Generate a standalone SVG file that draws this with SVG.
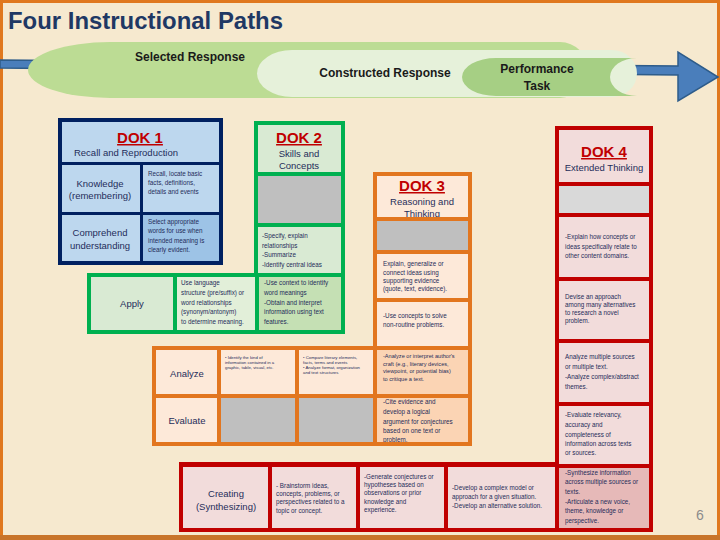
<svg xmlns="http://www.w3.org/2000/svg" width="720" height="540" viewBox="0 0 720 540">
<style>
text{font-family:"Liberation Sans",Arial,sans-serif;fill:#1f2d5a}
.t{font-weight:bold;font-size:24px;fill:#1f3864}
.band{font-weight:bold;font-size:12px;fill:#1a1a1a;text-anchor:middle}
.dok{font-weight:bold;font-size:15px;fill:#c00000;text-decoration:underline;text-anchor:middle}
.lb{font-size:9.5px;text-anchor:middle}
.sm{font-size:6.3px}
.xs{font-size:4.3px}
.an{font-size:5.6px}
.blue{fill:#bdd7ee}.blue2{fill:#9dc3e6}
.gr{fill:#d9ead3}.gr2{fill:#e2efd9}.gr3{fill:#c5e0b4}
.pe{fill:#fde9d9}.pe2{fill:#fbd4b4}
.pk{fill:#f2dcdb}.pk2{fill:#e6b9b8}
.gy{fill:#bfbfbf}.gy2{fill:#d9d9d9}
</style>
<rect x="0" y="0" width="720" height="540" fill="#f6e9cf"/>
<rect x="1.5" y="1.5" width="717" height="535" fill="none" stroke="#e0781e" stroke-width="3"/>
<rect x="0" y="535" width="720" height="5" fill="#c8742a"/>
<text class="t" x="8" y="29" textLength="275" lengthAdjust="spacingAndGlyphs">Four Instructional Paths</text>

<g id="connectors">
<polygon points="0,60 678,66 678,52 718,77 678,101 678,75 0,68" fill="#4a7ebb" stroke="#2e5c8a" stroke-width="1.5"/>
</g>

<g id="selected-response">
<path d="M110,42 H560 A28,28 0 0 1 560,98 H110 A82,28 0 0 1 110,42 Z" fill="#bcdc94"/>
<text class="band" x="190" y="61">Selected Response</text>
</g>
<g id="constructed-response">
<path d="M292,50 H612 A25,23.5 0 0 1 612,97 H292 A35,23.5 0 0 1 292,50 Z" fill="#e6f1da"/>
<text class="band" x="385" y="77">Constructed Response</text>
</g>
<g id="performance-task">
<path d="M496,58 H637 A27,19 0 0 0 637,96 H496 A34,19 0 0 1 496,58 Z" fill="#a6cf84"/>
<text class="band" x="537" y="73">Performance</text>
<text class="band" x="537" y="90">Task</text>
</g>

<g id="dok1">
<rect x="58" y="118" width="165" height="147" fill="#002060"/>
<rect class="blue" x="62" y="122" width="157" height="40"/>
<rect class="blue" x="62" y="165" width="78" height="47"/>
<rect class="blue" x="143" y="165" width="76" height="47"/>
<rect class="blue" x="62" y="215" width="78" height="46"/>
<rect class="blue2" x="143" y="215" width="76" height="46"/>
<text class="dok" x="140" y="143">DOK 1</text>
<text class="lb" x="126" y="156">Recall and Reproduction</text>
<text class="lb" x="100" y="187">Knowledge</text>
<text class="lb" x="100" y="199">(remembering)</text>
<text class="sm" x="148" y="176">Recall, locate basic</text>
<text class="sm" x="148" y="185">facts, definitions,</text>
<text class="sm" x="148" y="194">details and events</text>
<text class="lb" x="100" y="236">Comprehend</text>
<text class="lb" x="100" y="249">understanding</text>
<text class="sm" x="148" y="224">Select appropriate</text>
<text class="sm" x="148" y="233">words for use when</text>
<text class="sm" x="148" y="243">intended meaning is</text>
<text class="sm" x="148" y="252">clearly evident.</text>
</g>

<g id="dok2">
<rect x="254" y="121" width="91" height="156" fill="#00b050"/>
<rect x="87" y="273" width="258" height="61" fill="#00b050"/>
<rect class="gr" x="258" y="125" width="83" height="47"/>
<rect class="gy" x="258" y="176" width="83" height="47"/>
<rect class="gr" x="258" y="227" width="83" height="46"/>
<rect class="gr" x="91" y="277" width="82" height="53"/>
<rect class="gr2" x="177" y="277" width="78" height="53"/>
<rect class="gr3" x="259" y="277" width="82" height="53"/>
<text class="dok" x="299" y="143">DOK 2</text>
<text class="lb" x="299" y="157">Skills and</text>
<text class="lb" x="299" y="169">Concepts</text>
<text class="sm" x="262" y="238">-Specify, explain</text>
<text class="sm" x="262" y="248">relationships</text>
<text class="sm" x="262" y="257">-Summarize</text>
<text class="sm" x="262" y="267">-Identify central ideas</text>
<text class="lb" x="132" y="307">Apply</text>
<text class="sm" x="181" y="285">Use language</text>
<text class="sm" x="181" y="295">structure (pre/suffix) or</text>
<text class="sm" x="181" y="305">word relationships</text>
<text class="sm" x="181" y="314">(synonym/antonym)</text>
<text class="sm" x="181" y="324">to determine meaning.</text>
<text class="sm" x="264" y="285">-Use context to identify</text>
<text class="sm" x="264" y="295">word meanings</text>
<text class="sm" x="264" y="305">-Obtain and interpret</text>
<text class="sm" x="264" y="314">information using text</text>
<text class="sm" x="264" y="324">features.</text>
</g>

<g id="dok3">
<rect x="373" y="172" width="99" height="178" fill="#e2761f"/>
<rect x="152" y="346" width="320" height="100" fill="#e2761f"/>
<rect class="pe" x="377" y="176" width="91" height="41"/>
<text class="dok" x="422" y="191">DOK 3</text>
<text class="lb" x="422" y="205">Reasoning and</text>
<text class="lb" x="422" y="217">Thinking</text>
<rect x="377" y="217" width="91" height="4" fill="#e2761f"/>
<rect class="gy" x="377" y="221" width="91" height="29"/>
<rect class="pe" x="377" y="254" width="91" height="44"/>
<rect class="pe" x="377" y="302" width="91" height="44"/>
<rect class="pe" x="156" y="350" width="61" height="44"/>
<rect class="pe" x="221" y="350" width="74" height="44"/>
<rect class="pe" x="299" y="350" width="74" height="44"/>
<rect class="pe2" x="377" y="350" width="91" height="44"/>
<rect class="pe" x="156" y="398" width="61" height="44"/>
<rect class="gy" x="221" y="398" width="74" height="44"/>
<rect class="gy" x="299" y="398" width="74" height="44"/>
<rect class="pe2" x="377" y="398" width="91" height="44"/>
<text class="sm" x="383" y="266">Explain, generalize or</text>
<text class="sm" x="383" y="275">connect ideas using</text>
<text class="sm" x="383" y="283">supporting evidence</text>
<text class="sm" x="383" y="291">(quote, text, evidence).</text>
<text class="sm" x="383" y="318">-Use concepts to solve</text>
<text class="sm" x="383" y="327">non-routine problems.</text>
<text class="lb" x="187" y="377">Analyze</text>
<text class="xs" x="225" y="359">• Identify the kind of</text>
<text class="xs" x="225" y="364">information contained in a</text>
<text class="xs" x="225" y="369">graphic, table, visual, etc.</text>
<text class="xs" x="303" y="359">• Compare literary elements,</text>
<text class="xs" x="303" y="364">facts, terms and events</text>
<text class="xs" x="303" y="369">• Analyze format, organization</text>
<text class="xs" x="303" y="374">and text structures</text>
<text class="an" x="383" y="358">-Analyze or interpret author's</text>
<text class="an" x="383" y="366">craft (e.g., literary devices,</text>
<text class="an" x="383" y="373">viewpoint, or potential bias)</text>
<text class="an" x="383" y="381">to critique a text.</text>
<text class="lb" x="187" y="424">Evaluate</text>
<text class="sm" x="383" y="404">-Cite evidence and</text>
<text class="sm" x="383" y="414">develop a logical</text>
<text class="sm" x="383" y="424">argument for conjectures</text>
<text class="sm" x="383" y="433">based on one text or</text>
<text class="sm" x="383" y="442">problem.</text>
<rect x="152" y="442" width="320" height="4" fill="#e2761f"/>
</g>

<g id="dok4">
<rect x="555" y="126" width="98" height="342" fill="#c00000"/>
<rect x="179" y="462" width="474" height="70" fill="#c00000"/>
<rect class="pk" x="559" y="130" width="90" height="52"/>
<rect class="gy2" x="559" y="186" width="90" height="27"/>
<rect class="pk" x="559" y="217" width="90" height="60"/>
<rect class="pk" x="559" y="281" width="90" height="58"/>
<rect class="pk" x="559" y="343" width="90" height="59"/>
<rect class="pk" x="559" y="406" width="90" height="58"/>
<rect class="pk" x="183" y="467" width="85" height="61"/>
<rect class="pk" x="272" y="467" width="84" height="61"/>
<rect class="pk" x="360" y="467" width="84" height="61"/>
<rect class="pk" x="448" y="467" width="107" height="61"/>
<rect class="pk2" x="559" y="468" width="90" height="60"/>
<text class="dok" x="604" y="157">DOK 4</text>
<text class="lb" x="604" y="171">Extended Thinking</text>
<text class="sm" x="565" y="239">-Explain how concepts or</text>
<text class="sm" x="565" y="249">ideas specifically relate to</text>
<text class="sm" x="565" y="258">other content domains.</text>
<text class="sm" x="565" y="299">Devise an approach</text>
<text class="sm" x="565" y="307">among many alternatives</text>
<text class="sm" x="565" y="315">to research a novel</text>
<text class="sm" x="565" y="323">problem.</text>
<text class="sm" x="565" y="359">Analyze multiple sources</text>
<text class="sm" x="565" y="369">or multiple text.</text>
<text class="sm" x="565" y="379">-Analyze complex/abstract</text>
<text class="sm" x="565" y="389">themes.</text>
<text class="sm" x="565" y="417">-Evaluate relevancy,</text>
<text class="sm" x="565" y="427">accuracy and</text>
<text class="sm" x="565" y="437">completeness of</text>
<text class="sm" x="565" y="446">information across texts</text>
<text class="sm" x="565" y="455">or sources.</text>
<text class="lb" x="226" y="497">Creating</text>
<text class="lb" x="226" y="510">(Synthesizing)</text>
<text class="sm" x="276" y="488">- Brainstorm ideas,</text>
<text class="sm" x="276" y="496">concepts, problems, or</text>
<text class="sm" x="276" y="504">perspectives related to a</text>
<text class="sm" x="276" y="513">topic or concept.</text>
<text class="sm" x="364" y="479">-Generate conjectures or</text>
<text class="sm" x="364" y="487">hypotheses based on</text>
<text class="sm" x="364" y="495">observations or prior</text>
<text class="sm" x="364" y="504">knowledge and</text>
<text class="sm" x="364" y="512">experience.</text>
<text class="sm" x="452" y="490">-Develop a complex model or</text>
<text class="sm" x="452" y="499">approach for a given situation.</text>
<text class="sm" x="452" y="508">-Develop an alternative solution.</text>
<text class="sm" x="565" y="475">-Synthesize information</text>
<text class="sm" x="565" y="484">across multiple sources or</text>
<text class="sm" x="565" y="494">texts.</text>
<text class="sm" x="565" y="504">-Articulate a new voice,</text>
<text class="sm" x="565" y="513">theme, knowledge or</text>
<text class="sm" x="565" y="523">perspective.</text>
</g>

<text x="700" y="520" font-size="14" style="fill:#8c8c8c" text-anchor="middle">6</text>
</svg>
